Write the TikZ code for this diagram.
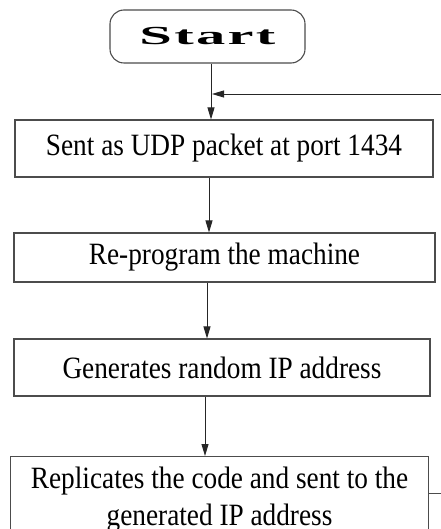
\documentclass[tikz,border=0pt]{standalone}
\usepackage{fontspec}
\setmainfont{Liberation Serif}[FakeStretch=0.88]
\newfontfamily\startfont{Liberation Serif}[LetterSpace=4]
\usetikzlibrary{arrows.meta}
\begin{document}
\begin{tikzpicture}[x=1pt,y=-1pt,
  box/.style={draw=black!70,line width=1.1pt,rectangle,inner sep=0pt,align=center,
    font=\fontsize{31}{37}\selectfont},
  arr/.style={draw=black!85,line width=0.9pt,-{Triangle[length=12pt,width=7pt]}},
  lin/.style={draw=black!70,line width=1pt}]
\useasboundingbox (0,0) rectangle (440,529);
\node[box,rounded corners=14pt,minimum width=195pt,minimum height=53pt] (start) at (207.5,36.5)
  {\scalebox{2.25}[1]{\fontsize{26}{28}\startfont\bfseries Start}};
\node[box,minimum width=418pt,minimum height=57pt] (b1) at (224,148.5) {Sent as UDP packet at port 1434};
\node[box,minimum width=421pt,minimum height=49pt] (b2) at (224.5,257.5) {Re-program the machine};
\node[box,minimum width=416pt,minimum height=57pt] (b3) at (222,367.5) {Generates random IP address};
\node[box,minimum width=418pt,minimum height=86pt,anchor=north west] (b4) at (10,456)
  {Replicates the code and sent to the\\generated IP address};
\coordinate (j) at (211,94);
\coordinate (fbtop) at (441,94);
\coordinate (fbbot) at (441,493);
\coordinate (a2) at (209,0);
\coordinate (a3) at (207,0);
\coordinate (a4) at (205,0);
\draw[arr] (start.south -| j) -- (b1.north -| j);
\draw[arr] (fbtop) -- ([xshift=1pt]j);
\draw[arr] (b1.south -| a2) -- (b2.north -| a2);
\draw[arr] (b2.south -| a3) -- (b3.north -| a3);
\draw[arr] (b3.south -| a4) -- (b4.north -| a4);
\draw[lin] (b4.east |- fbbot) -- (fbbot);
\end{tikzpicture}
\end{document}
